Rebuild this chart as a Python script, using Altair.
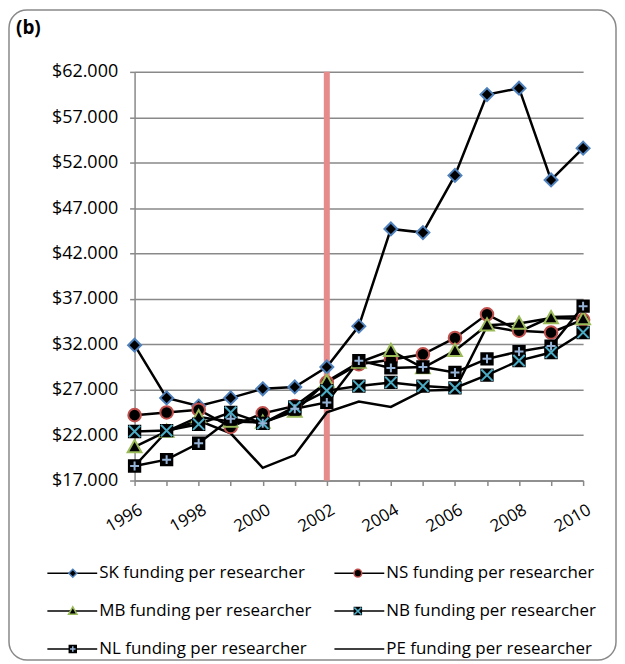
import altair as alt
import pandas as pd

# ---------------- data ----------------
years = list(range(1996, 2011))
series_names = [
    "SK funding per researcher",
    "NS funding per researcher",
    "MB funding per researcher",
    "NB funding per researcher",
    "NL funding per researcher",
    "PE funding per researcher",
]
sk = [31900, 26100, 25200, 26100, 27100, 27300, 29500, 34000, 44700, 44300, 50600, 59500, 60200, 50100, 53600]
ns = [24200, 24500, 24800, 22900, 24400, 25200, 27800, 29800, 30300, 30900, 32700, 35300, 33500, 33300, 34700]
mb = [20700, 22400, 24000, 23500, 23400, 24600, 27900, 30000, 31300, 29400, 31300, 34100, 34300, 34900, 34800]
nb = [22400, 22500, 23200, 24500, 23300, 25100, 26900, 27400, 27800, 27400, 27200, 28600, 30200, 31100, 33300]
nl = [18600, 19300, 21100, 23800, 23300, 24900, 25600, 30200, 29400, 29500, 28900, 30400, 31200, 31800, 36200]
pe = [18600, 22400, 23600, 22200, 18400, 19800, 24500, 25700, 25100, 26900, 27000, 34000, 33400, 35000, 35100]
marker_year = [2002]
y_ticks = list(range(17000, 62001, 5000))
panel_label = ["(b)"]

marker_names = series_names[:5]
overlay_names = series_names[:5] + [" "]

rows = []
for name, vals in zip(series_names, [sk, ns, mb, nb, nl, pe]):
    for yr, v in zip(years, vals):
        rows.append({"year": yr, "series": name, "value": v})
df = pd.DataFrame(rows)

# ---------------- styles ----------------
FONT = "Open Sans"
GRAY = "#898989"
BLUE = "#4f81bd"
RED = "#c0504d"
GREEN = "#9bbb59"
TEAL = "#4bacc6"
LBLUE = "#95b3d7"

# marker paths drawn small inside the unit box so that legend symbols can share
# the same (large) symbol size as the line legend
DIAMOND = "M0,-0.16L0.16,0L0,0.16L-0.16,0Z"
CIRCLE = "M-0.155,0A0.155,0.155 0 1,0 0.155,0A0.155,0.155 0 1,0 -0.155,0Z"
TRIANGLE = "M0,-0.17L0.17,0.13L-0.17,0.13Z"
SQUARE = "M-0.14,-0.14H0.14V0.14H-0.14Z"
X_PATH = "M-0.14,-0.14L0.14,0.14M-0.14,0.14L0.14,-0.14"
PLUS_PATH = "M-0.11,0H0.11M0,-0.11V0.11"
EMPTY = "M0,0"
LINE_SYM = "M-1,0H1"

MSIZE = 6600   # plot marker size (path scaled by sqrt(size)/2)
LSIZE = 2500   # legend symbol size (50 px line)

LX, LY = -88.5, 494.5
common_leg = dict(orient="none", legendY=LY, columns=2, direction="horizontal", title=None,
                  labelFont=FONT, labelFontSize=17, labelColor="black", clipHeight=17,
                  rowPadding=20, padding=0, labelLimit=0, symbolSize=LSIZE)

line_legend = alt.Legend(legendX=LX, symbolType=LINE_SYM, labelOffset=1,
                         columnPadding=22, **common_leg)
# marker legends drawn on top of the line legend, without label text
pt_legend = alt.Legend(legendX=LX + 0.5, labelOffset=2, labelExpr="''",
                       columnPadding=232, **common_leg)

x_enc = alt.X("year:Q",
              scale=alt.Scale(domain=[1996, 2010], nice=False, zero=False),
              axis=alt.Axis(values=years, format="d", grid=False, title=None,
                            labelExpr="datum.value % 2 == 0 ? datum.label : ''",
                            labelAngle=-30, labelAlign="right", labelBaseline="top",
                            labelPadding=16, labelOffset=2, labelFontSize=17))
y_enc = alt.Y("value:Q",
              scale=alt.Scale(domain=[17000, 62000], nice=False, zero=False),
              axis=alt.Axis(values=y_ticks, grid=True, title=None,
                            labelExpr="'$' + format(datum.value / 1000, 'd') + '.000'",
                            labelPadding=12, labelFontSize=18))

base = alt.Chart(df)

frame = alt.Chart(pd.DataFrame({"k": [0]})).mark_rect(
    cornerRadius=18, fill="transparent", stroke=GRAY, strokeWidth=1.5
).encode(x=alt.value(-126), x2=alt.value(483), y=alt.value(-62), y2=alt.value(590))

label_b = alt.Chart(pd.DataFrame({"t": panel_label})).mark_text(
    align="left", baseline="middle", font=FONT, fontSize=19, fontWeight="bold", color="black"
).encode(x=alt.value(-119), y=alt.value(-44), text="t:N")

rule = alt.Chart(pd.DataFrame({"year": marker_year})).mark_rule(
    color="#e68a8a", strokeWidth=6
).encode(x=x_enc)

lines = base.mark_line(strokeWidth=2.5).encode(
    x=x_enc, y=y_enc,
    color=alt.Color("series:N", scale=alt.Scale(domain=series_names, range=["black"] * 6),
                    legend=line_legend),
)

points = base.transform_filter(
    alt.FieldOneOfPredicate(field="series", oneOf=marker_names)
).mark_point(filled=True, fill="black", size=MSIZE, strokeWidth=2, opacity=1).encode(
    x=x_enc, y=y_enc,
    shape=alt.Shape("series:N",
                    scale=alt.Scale(domain=marker_names,
                                    range=[DIAMOND, CIRCLE, TRIANGLE, SQUARE, SQUARE]),
                    legend=pt_legend),
    stroke=alt.Stroke("series:N",
                      scale=alt.Scale(domain=marker_names, range=[BLUE, RED, GREEN, "black", "black"]),
                      legend=pt_legend),
)

overlay = base.transform_filter(
    alt.FieldOneOfPredicate(field="series", oneOf=series_names[3:5])
).mark_point(filled=False, size=MSIZE, strokeWidth=2, opacity=1).encode(
    x=x_enc, y=y_enc,
    shape=alt.Shape("series:N",
                    scale=alt.Scale(domain=overlay_names,
                                    range=[EMPTY, EMPTY, EMPTY, X_PATH, PLUS_PATH, EMPTY]),
                    legend=pt_legend),
    stroke=alt.Stroke("series:N",
                      scale=alt.Scale(domain=overlay_names,
                                      range=["transparent"] * 3 + [TEAL, LBLUE, "transparent"]),
                      legend=pt_legend),
)

chart = alt.layer(frame, label_b, rule, lines, points, overlay).resolve_scale(
    shape="independent", stroke="independent"
).resolve_legend(
    shape="independent", stroke="independent"
).properties(
    width=450, height=410, padding=0
).configure_view(
    stroke="transparent"
).configure_axis(
    domainColor=GRAY, domainWidth=1.5, tickColor=GRAY, tickWidth=1.5, tickSize=5,
    gridColor=GRAY, gridWidth=1.5, labelFont=FONT, labelColor="black"
)

chart.save("out.html", embed_options={"renderer": "svg", "actions": False})
